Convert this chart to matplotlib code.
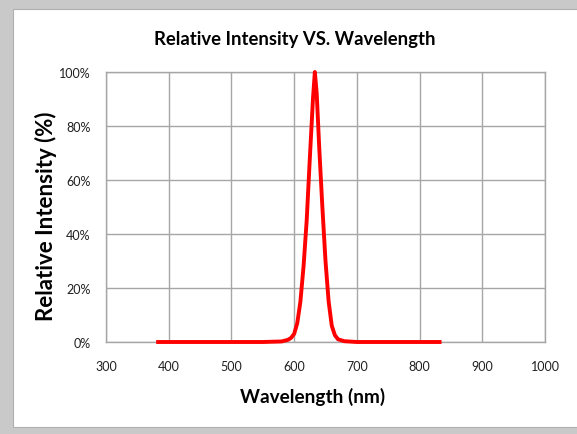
import matplotlib.pyplot as plt
from matplotlib.patches import Rectangle
from matplotlib.ticker import FuncFormatter

# spectrum
wavelength = [380, 450, 500, 550, 580, 590, 595, 600, 605, 610, 615, 620,
              625, 630, 633, 636, 640, 645, 650, 655, 660, 665, 670, 680,
              700, 750, 800, 835]
intensity = [0, 0, 0, 0, 0.2, 0.8, 1.5, 3, 7, 15, 28, 45,
             68, 90, 100, 92, 72, 50, 30, 15, 6, 2.5, 1, 0.3,
             0, 0, 0, 0]

x_ticks = [300, 400, 500, 600, 700, 800, 900, 1000]
y_ticks = [0, 20, 40, 60, 80, 100]

plt.rcParams['font.family'] = ['Lato', 'DejaVu Sans']

fig = plt.figure(figsize=(5.77, 4.35), dpi=100)
fig.patch.set_facecolor('#c9c9c9')

# white chart area inside the grey spreadsheet frame
W, H = 577, 435
fig.patches.append(Rectangle((13 / W, 1 - 428 / H), 1, (428 - 10) / H,
                             transform=fig.transFigure, facecolor='white',
                             edgecolor='#b0b0b0', linewidth=0.8, zorder=-1))

ax = fig.add_axes([106 / W, 1 - 343 / H, (545 - 106) / W, (343 - 73) / H])
ax.set_zorder(2)
ax.plot(wavelength, intensity, color='#ff0000', linewidth=2.8,
        solid_capstyle='butt', clip_on=False, zorder=3)

ax.set_xlim(300, 1000)
ax.set_ylim(0, 100)
ax.set_xticks(x_ticks)
ax.set_yticks(y_ticks)
ax.yaxis.set_major_formatter(FuncFormatter(lambda v, pos: f"{v:.0f}%"))
ax.grid(True, color='#a6a6a6', linewidth=1.0)
ax.set_axisbelow(True)
for s in ax.spines.values():
    s.set_color('#a6a6a6')
    s.set_linewidth(1.0)
ax.tick_params(length=0, labelsize=9, colors='#202020')
ax.tick_params(axis='y', pad=11)
ax.tick_params(axis='x', pad=13)

fig.text(295 / W, 1 - 40 / H, 'Relative Intensity VS. Wavelength',
         ha='center', va='center', fontsize=13.3, fontweight='bold')
fig.text(313 / W, 1 - 397 / H, 'Wavelength (nm)', ha='center',
         va='center', fontsize=13.7, fontweight='bold')
fig.text(46 / W, 1 - 216 / H, 'Relative Intensity (%)', ha='center',
         va='center', rotation=90, fontsize=16, fontweight='bold')

fig.savefig('out.png', dpi=100, facecolor=fig.get_facecolor())
